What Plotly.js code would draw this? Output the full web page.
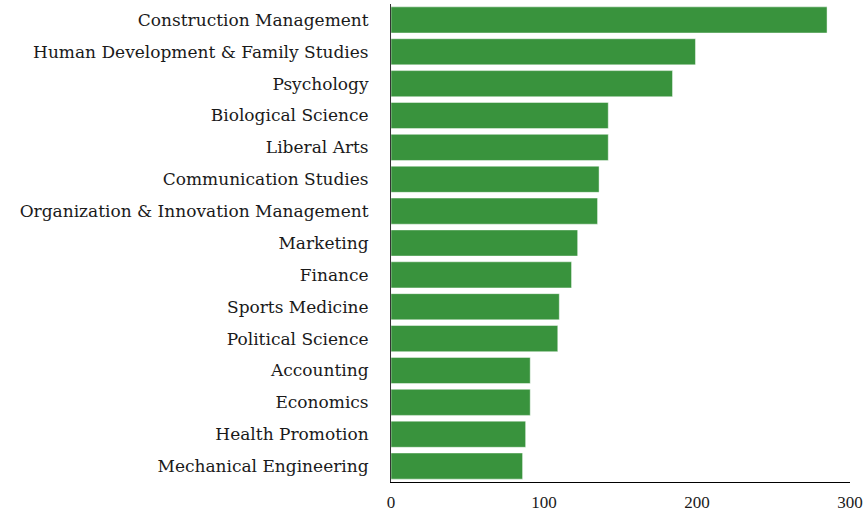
<!DOCTYPE html>
<html>
<head>
<meta charset="utf-8">
<script src="https://cdn.plot.ly/plotly-3.0.1.min.js"></script>
<style>html,body{margin:0;padding:0;background:#fff;}#chart{width:867px;height:514px;}</style>
</head>
<body>
<div id="chart"></div>
<script>
const majors = [
  "Construction Management",
  "Human Development & Family Studies",
  "Psychology",
  "Biological Science",
  "Liberal Arts",
  "Communication Studies",
  "Organization & Innovation Management",
  "Marketing",
  "Finance",
  "Sports Medicine",
  "Political Science",
  "Accounting",
  "Economics",
  "Health Promotion",
  "Mechanical Engineering"
];
const counts = [285, 199, 184, 142, 142, 136, 135, 122, 118, 110, 109, 91, 91, 88, 86];
const xTicks = [0, 100, 200, 300];

const trace = {
  type: 'bar',
  orientation: 'h',
  x: counts,
  y: majors,
  marker: {color: '#39933d', line: {color: 'rgba(255,255,255,0.45)', width: 1}},
  hoverinfo: 'x+y'
};

const layout = {
  width: 867, height: 514,
  margin: {l: 391, r: 17, t: 4, b: 32},
  paper_bgcolor: '#fff', plot_bgcolor: '#fff',
  font: {family: '"Liberation Serif", serif', size: 17, color: '#1a1a1a'},
  bargap: 0.18,
  showlegend: false,
  xaxis: {
    range: [0, 300], tickvals: xTicks, ticktext: xTicks.map(String),
    showgrid: false, zeroline: false, showline: true, linecolor: '#000', linewidth: 1,
    ticks: 'outside', ticklen: 5, tickcolor: 'rgba(0,0,0,0)',
    tickfont: {size: 17}, fixedrange: true
  },
  yaxis: {
    autorange: 'reversed', showgrid: false, zeroline: false,
    showline: true, linecolor: '#333', linewidth: 1, ticks: '',
    ticklabelstandoff: 18,
    tickfont: {family: '"DejaVu Serif", serif', size: 17}, fixedrange: true
  }
};

Plotly.newPlot('chart', [trace], layout, {displayModeBar: false, staticPlot: true});
</script>
</body>
</html>
